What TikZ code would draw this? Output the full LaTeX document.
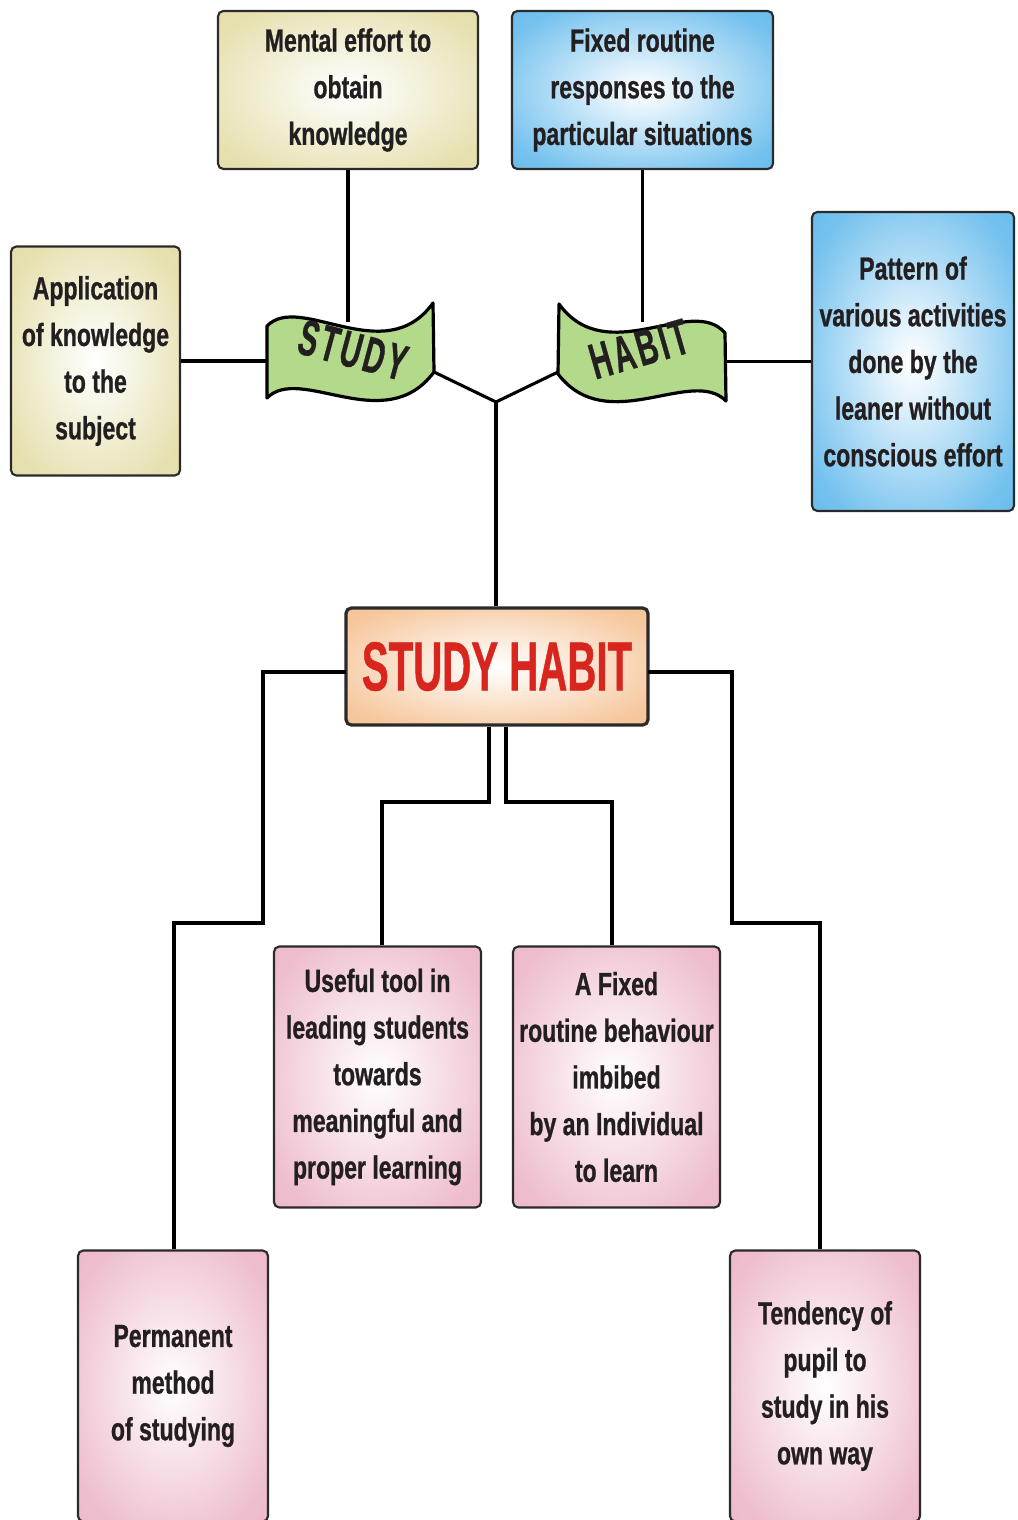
\documentclass[tikz,border=0pt]{standalone}
\usepackage{fontspec}
\setmainfont{Liberation Sans}
\newfontfamily\lblfont{Liberation Sans}[FakeStretch=0.72,FakeBold=0.8]
\newfontfamily\shfont{Liberation Sans}[FakeStretch=0.58,FakeBold=0.6]
\newfontfamily\bnfont{Liberation Sans}[FakeStretch=0.57,FakeBold=0.6,LetterSpace=6]

\definecolor{ink}{HTML}{231F20}
\definecolor{boxline}{HTML}{2A2A2A}
\definecolor{ylw}{HTML}{E0D99C}
\definecolor{blu}{HTML}{52B2EA}
\definecolor{pnk}{HTML}{EAAEC3}
\definecolor{org}{HTML}{F4BA86}
\definecolor{grn}{HTML}{B3D98A}
\definecolor{redtxt}{HTML}{D8261F}
\colorlet{boxedge}{ylw}

% soft glow: white centre fading to the box colour at the rim
\pgfdeclareradialshading[boxedge]{boxglow}{\pgfpointorigin}{%
  color(0bp)=(white);color(8bp)=(boxedge!20!white);color(30bp)=(boxedge!80!white);%
  color(48bp)=(boxedge);color(100bp)=(boxedge)}

\tikzset{
  box/.style={draw=boxline, line width=1.6pt, rounded corners=4pt, shade, shading=boxglow,
    align=center, inner sep=0pt, text=ink,
    font=\lblfont\bfseries\fontsize{24}{35}\selectfont},
  ybox/.style={box, /utils/exec={\colorlet{boxedge}{ylw}}},
  bbox/.style={box, /utils/exec={\colorlet{boxedge}{blu}}},
  pbox/.style={box, /utils/exec={\colorlet{boxedge}{pnk}}},
  obox/.style={box, line width=2.4pt, /utils/exec={\colorlet{boxedge}{org}}},
  conn/.style={draw=black, line width=2.3pt},
  banner/.style={draw=black, line width=2.4pt, fill=grn, line join=round},
  bword/.style={inner sep=0pt, text=ink, font=\bnfont\bfseries\fontsize{38}{38}\selectfont},
}

\begin{document}
\begin{tikzpicture}[x=0.75pt, y=-0.75pt]
\useasboundingbox (0,0) rectangle (1017,1520);
\clip (0,0) rectangle (1017,1520);

% boxes
\node[ybox, minimum width=195pt, minimum height=118.5pt] (mental) at (348,90)
  {Mental effort to\\obtain\\knowledge};
\node[bbox, minimum width=195.75pt, minimum height=118.5pt] (fixedr) at (642.5,90)
  {Fixed routine\\responses to the\\particular situations};
\node[ybox, minimum width=126.75pt, minimum height=171.75pt] (appl) at (95.5,361)
  {Application\\of knowledge\\to the\\subject};
\node[bbox, minimum width=151.5pt, minimum height=224.25pt] (pattern) at (913,361.5)
  {Pattern of\\various activities\\done by the\\leaner without\\conscious effort};
\node[obox, minimum width=226.5pt, minimum height=87.75pt, text=redtxt,
  font=\shfont\bfseries\fontsize{52}{52}\selectfont] (sh) at (497,666.5) {STUDY HABIT};
\node[pbox, minimum width=155.25pt, minimum height=195.75pt] (useful) at (377.5,1077)
  {Useful tool in\\leading students\\towards\\meaningful and\\proper learning};
\node[pbox, minimum width=155.25pt, minimum height=195.75pt] (afixed) at (616.5,1077)
  {A Fixed\\routine behaviour\\imbibed\\by an Individual\\to learn};
\node[pbox, minimum width=142.5pt, minimum height=203.25pt] (perm) at (173,1386)
  {Permanent\\method\\of studying};
\node[pbox, minimum width=142.5pt, minimum height=203.25pt] (tend) at (825,1386)
  {Tendency of\\pupil to\\study in his\\own way};

% banner attachment points and junctions
\coordinate (stT) at (348,322);
\coordinate (stL) at (268,361);
\coordinate (stR) at (434,372);
\coordinate (hbT) at (642,322);
\coordinate (hbR) at (724,361);
\coordinate (hbL) at (558,372);
\coordinate (jn) at (496,402);
\coordinate (shL) at (346,672);
\coordinate (l1) at (263,672);
\coordinate (l2) at (263,923);
\coordinate (l3) at (174,923);
\coordinate (shR) at (648,672);
\coordinate (r1) at (732,672);
\coordinate (r2) at (732,923);
\coordinate (r3) at (820,923);
\coordinate (m1) at (489,802);
\coordinate (m1b) at (382,802);
\coordinate (m2) at (506,802);
\coordinate (m2b) at (612,802);

% connectors
\draw[conn] (mental.south) -- (stT);
\draw[conn] (fixedr.south) -- (fixedr.south |- hbT);
\draw[conn] (appl.east) -- (appl.east -| stL);
\draw[conn] (pattern.west) -- (pattern.west -| hbR);
\draw[conn, line join=round] (stR) -- (jn) -- (hbL);
\draw[conn] (jn) -- (jn |- sh.north);
\draw[conn] (shL) -- (l1) -- (l2) -- (l3) -- (l3 |- perm.north);
\draw[conn] (shR) -- (r1) -- (r2) -- (r3) -- (r3 |- tend.north);
\draw[conn] (m1 |- sh.south) -- (m1) -- (m1b) -- (m1b |- useful.north);
\draw[conn] (m2 |- sh.south) -- (m2) -- (m2b) -- (m2b |- afixed.north);

% waving banners
\draw[banner] (267,326) .. controls (300,292) and (385,370) .. (433,303)
  -- (434,372) .. controls (385,438) and (300,364) .. (267,398) -- cycle;
\draw[banner] (725,333) .. controls (692,294) and (607,370) .. (559,304)
  -- (558,374) .. controls (607,438) and (692,366) .. (726,401) -- cycle;

% banner lettering
\node[bword, rotate=-15] (studyw) at (353,350) {STUDY};
\node[bword, rotate=16] (habitw) at (639,349) {HABIT};
\end{tikzpicture}
\end{document}
